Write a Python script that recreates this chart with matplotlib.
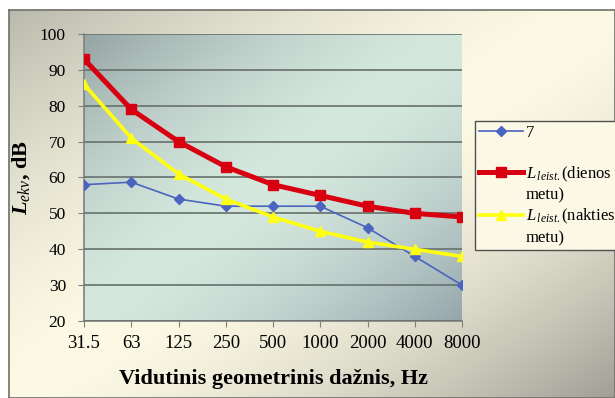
import numpy as np
import matplotlib.pyplot as plt
from matplotlib.lines import Line2D

plt.rcParams["font.family"] = "Liberation Serif"
plt.rcParams["mathtext.fontset"] = "custom"
plt.rcParams["mathtext.rm"] = "Liberation Serif"
plt.rcParams["mathtext.it"] = "Liberation Serif:italic"
plt.rcParams["mathtext.bf"] = "Liberation Serif:bold:italic"

freqs = ["31.5", "63", "125", "250", "500", "1000", "2000", "4000", "8000"]
measured = [58, 58.7, 54, 52, 52, 52, 46, 38, 30]
day_limit = [93, 79, 70, 63, 58, 55, 52, 50, 49]
night_limit = [86, 71, 61, 54, 49, 45, 42, 40, 38]


def gradient(dark_tl, light, dark_br, n=100, p=1.6):
    # light along the anti-diagonal, darker towards top-left / bottom-right
    s = np.linspace(0, 1, n)[None, :, None]
    t = np.linspace(0, 1, n)[:, None, None]
    d = np.clip(np.abs(s + t - 1), 0, 1) ** p
    dark = np.where(s + t < 1, np.array(dark_tl, float), np.array(dark_br, float))
    img = np.array(light, float) * (1 - d) + dark * d
    return img / 255


fig = plt.figure(figsize=(6.15, 3.98), dpi=100)
fig.patch.set_facecolor("white")

# chart background with frame
bg = fig.add_axes([9 / 615, 0, 1 - 9 / 615, 1 - 10 / 398])
bg.imshow(gradient((186, 186, 174), (252, 249, 228), (160, 160, 150)),
          aspect="auto", extent=[0, 1, 0, 1], interpolation="bilinear")
bg.set_xticks([])
bg.set_yticks([])
for sp in bg.spines.values():
    sp.set_color("#707068")
    sp.set_linewidth(1.2)

ax = fig.add_axes([84 / 615, 1 - 321 / 398, 378 / 615, 287 / 398])
x = np.arange(len(freqs))
ax.imshow(gradient((150, 164, 164), (212, 232, 222), (150, 166, 172)),
          aspect="auto", extent=[0, len(freqs) - 1, 20, 100], interpolation="bilinear",
          zorder=0)

ax.set_xlim(0, len(freqs) - 1)
ax.set_ylim(20, 100)
ax.set_yticks(range(20, 101, 10))
ax.set_xticks(x)
ax.set_xticklabels(freqs)
ax.yaxis.grid(True, color="#68706c", linewidth=1.2)
ax.set_axisbelow(False)
for side in ("top", "right"):
    ax.spines[side].set_visible(False)
for side in ("left", "bottom"):
    ax.spines[side].set_color("#808080")
    ax.spines[side].set_linewidth(1.2)
ax.tick_params(axis="both", direction="out", length=4, color="#808080")
ax.tick_params(axis="x", labelsize=13.5, pad=6)
ax.tick_params(axis="y", labelsize=12.5, pad=9)

ax.plot(x, measured, color="#4a64c0", lw=1.2, marker="D", ms=5, zorder=3)
ax.plot(x, day_limit, color="#d80010", lw=3.6, marker="s", ms=7, zorder=4)
ax.plot(x, night_limit, color="#ffff10", lw=2.6, marker="^", ms=7, zorder=3)

ax.set_xlabel("Vidutinis geometrinis dažnis, Hz", fontsize=16, fontweight="bold",
              labelpad=12)
ax.set_ylabel("$\\mathbf{L}_{ekv}$, dB", fontsize=16, fontweight="bold", labelpad=6)

# legend: wrapped labels as separate rows so handles sit on the first line
blank = Line2D([], [], color="none")
handles = [
    Line2D([], [], color="#4a64c0", lw=1.2, marker="D", ms=5),
    blank,
    Line2D([], [], color="#d80010", lw=3.6, marker="s", ms=7),
    blank,
    Line2D([], [], color="#ffff10", lw=2.6, marker="^", ms=7),
    blank,
]
labels = ["7", " ", "$L_{\\,leist.}$(dienos", "metu)",
          "$L_{\\,leist.}$(nakties", "metu)"]
leg = ax.legend(handles, labels, loc="upper left",
                bbox_to_anchor=(475 / 615, 1 - 121 / 398),
                bbox_transform=fig.transFigure, frameon=True, fancybox=False,
                fontsize=12, handlelength=2.6, handletextpad=0.2, labelspacing=0.22,
                borderpad=0.25, borderaxespad=0)
leg.get_frame().set_edgecolor("#505050")
leg.get_frame().set_facecolor("#fbf8e6")
leg.get_frame().set_alpha(1)

fig.savefig("out.png", dpi=100)
